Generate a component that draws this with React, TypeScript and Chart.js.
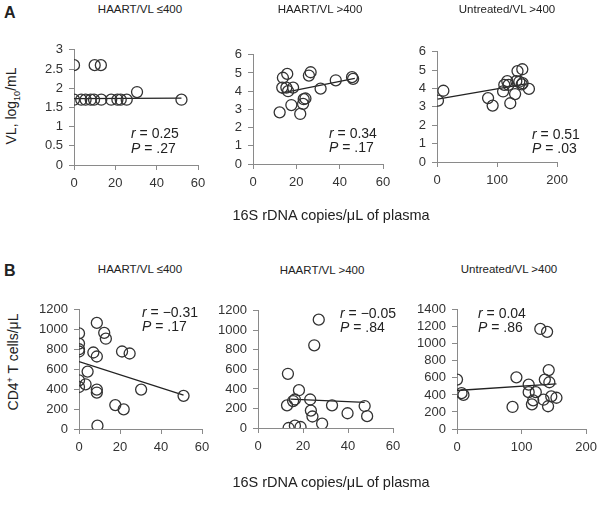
import React, { useEffect, useRef } from 'react';
import { Chart, registerables } from 'chart.js';
Chart.register(...registerables);

const FONT = '"Liberation Sans", Arial, Helvetica, sans-serif';

// ---- Panel A1: HAART/VL <=400, VL ----
const a1X = [0, 10, 13, 0, 3.5, 5.6, 8.1, 9.7, 13.2, 18, 21, 22.6, 25.5, 30.5, 52];
const a1Y = [2.6, 2.6, 2.6, 1.7, 1.7, 1.7, 1.7, 1.7, 1.7, 1.7, 1.7, 1.7, 1.7, 1.9, 1.7];
const a1TrendX = [0, 52];
const a1TrendY = [1.73, 1.74];

// ---- Panel A2: HAART/VL >400, VL ----
const a2X = [12.3, 13.5, 13.8, 15.8, 15.4, 16.2, 18.5, 17.7, 21.8, 23.1, 23.4, 24.2, 25.8, 26.6, 31.2, 38.2, 45.7, 46.2];
const a2Y = [2.84, 4.2, 4.74, 4.95, 4.2, 4.0, 4.2, 3.24, 2.75, 3.3, 3.56, 3.6, 4.86, 5.04, 4.14, 4.6, 4.77, 4.68];
const a2TrendX = [13, 47];
const a2TrendY = [3.9, 4.7];

// ---- Panel A3: Untreated/VL >400, VL ----
const a3X = [1.6, 10.6, 85, 92.6, 110, 112, 117, 119, 122, 130, 132, 134, 142, 137, 141, 142.5, 153];
const a3Y = [3.34, 3.88, 3.48, 3.07, 3.84, 4.2, 4.4, 4.2, 3.2, 3.7, 4.4, 4.95, 5.05, 4.37, 4.23, 4.29, 3.98];
const a3TrendX = [1, 148];
const a3TrendY = [3.42, 4.25];

// ---- Panel B1: HAART/VL <=400, CD4 ----
const b1X = [0, 0, 0, 0, 0, 0, 3.2, 4.2, 7, 8.7, 8.7, 8.7, 8.7, 9, 12.3, 13.1, 17.7, 21, 21.8, 24.7, 30.3, 51];
const b1Y = [962, 860, 803, 780, 489, 423, 450, 578, 770, 1068, 730, 397, 367, 33, 968, 909, 241, 780, 198, 760, 397, 334];
const b1TrendX = [0, 51];
const b1TrendY = [678, 340];

// ---- Panel B2: HAART/VL >400, CD4 ----
const b2X = [27, 25, 13.3, 18.2, 12.9, 15.6, 16.4, 23.2, 23.5, 24.2, 28.5, 32.9, 39.8, 47.4, 48.5, 13.6, 16.4, 18.9];
const b2Y = [1109, 847, 555, 387, 232, 276, 292, 292, 178, 118, 44, 232, 151, 225, 121, 0, 24, 10];
const b2TrendX = [14.4, 47.4];
const b2TrendY = [296, 262];

// ---- Panel B3: Untreated/VL >400, CD4 ----
const b3X = [0, 7, 10, 86, 92, 111, 111, 116, 118, 122, 129, 139.5, 134, 136, 142, 143, 141, 146, 154];
const b3Y = [580, 421, 400, 259, 607, 522, 433, 290, 336, 433, 1175, 1141, 344, 580, 692, 549, 267, 383, 367];
const b3TrendX = [0, 154];
const b3TrendY = [452, 530];

// axis ranges
const xMaxSmall = 60;
const xStepSmall = 20;
const xMaxLarge = 200;
const xStepLarge = 100;

const panelTitles = ['HAART/VL \u2264400', 'HAART/VL >400', 'Untreated/VL >400'];
const rLabels = ['0.25', '0.34', '0.51', '\u22120.31', '\u22120.05', '0.04'];
const pLabels = ['.27', '.17', '.03', '.17', '.84', '.86'];

const YW = 46;
const PT = 12;
const PR = 14;
const XH = 30;

type PanelCfg = {
  xs: number[]; ys: number[]; tx: number[]; ty: number[];
  xMax: number; xStep: number; yMax: number; yStep: number;
  L: number; T: number; R: number; B: number;
};

const panels: PanelCfg[] = [
  { xs: a1X, ys: a1Y, tx: a1TrendX, ty: a1TrendY, xMax: xMaxSmall, xStep: xStepSmall, yMax: 3, yStep: 0.5, L: 74, T: 48, R: 198, B: 165 },
  { xs: a2X, ys: a2Y, tx: a2TrendX, ty: a2TrendY, xMax: xMaxSmall, xStep: xStepSmall, yMax: 6, yStep: 1, L: 253, T: 53, R: 383, B: 164 },
  { xs: a3X, ys: a3Y, tx: a3TrendX, ty: a3TrendY, xMax: xMaxLarge, xStep: xStepLarge, yMax: 6, yStep: 1, L: 437, T: 50, R: 560, B: 162 },
  { xs: b1X, ys: b1Y, tx: b1TrendX, ty: b1TrendY, xMax: xMaxSmall, xStep: xStepSmall, yMax: 1200, yStep: 200, L: 79, T: 308, R: 202, B: 429 },
  { xs: b2X, ys: b2Y, tx: b2TrendX, ty: b2TrendY, xMax: xMaxSmall, xStep: xStepSmall, yMax: 1200, yStep: 200, L: 258, T: 309, R: 393, B: 428 },
  { xs: b3X, ys: b3Y, tx: b3TrendX, ty: b3TrendY, xMax: xMaxLarge, xStep: xStepLarge, yMax: 1400, yStep: 200, L: 457, T: 308, R: 589, B: 429 },
];

const fmt = (v: any) => String(Math.round(Number(v) * 100) / 100);

function Panel({ cfg }: { cfg: PanelCfg }) {
  const ref = useRef<HTMLCanvasElement | null>(null);
  const width = YW + (cfg.R - cfg.L) + PR;
  const height = PT + (cfg.B - cfg.T) + XH;
  useEffect(() => {
    if (!ref.current) return;
    const axisColor = '#8a8a8a';
    const tickFont = { family: FONT, size: 13 };
    const chart = new Chart(ref.current, {
      type: 'scatter',
      data: {
        datasets: [
          {
            data: cfg.xs.map((x, i) => ({ x, y: cfg.ys[i] })),
            pointRadius: 5.5,
            pointStyle: 'circle',
            backgroundColor: 'rgba(0,0,0,0)',
            borderColor: '#333',
            borderWidth: 1.3,
            showLine: false,
          },
          {
            data: cfg.tx.map((x, i) => ({ x, y: cfg.ty[i] })),
            showLine: true,
            pointRadius: 0,
            borderColor: '#222',
            borderWidth: 1.3,
            fill: false,
          },
        ],
      },
      options: {
        animation: false,
        responsive: false,
        maintainAspectRatio: false,
        events: [],
        layout: { padding: { top: PT, right: PR, left: 0, bottom: 0 } },
        plugins: { legend: { display: false }, tooltip: { enabled: false }, title: { display: false } },
        scales: {
          x: {
            type: 'linear',
            min: 0,
            max: cfg.xMax,
            ticks: { stepSize: cfg.xStep, color: '#333', font: tickFont, padding: 6, maxRotation: 0, autoSkip: false, callback: fmt },
            grid: { display: true, drawOnChartArea: false, drawTicks: true, tickLength: 5, color: axisColor },
            border: { display: true, color: axisColor, width: 1 },
            afterFit: (s: any) => { s.height = XH; },
          },
          y: {
            type: 'linear',
            min: 0,
            max: cfg.yMax,
            ticks: { stepSize: cfg.yStep, color: '#333', font: tickFont, padding: 6, autoSkip: false, callback: fmt },
            grid: { display: true, drawOnChartArea: false, drawTicks: true, tickLength: 5, color: axisColor },
            border: { display: true, color: axisColor, width: 1 },
            afterFit: (s: any) => { s.width = YW; },
          },
        },
      },
    } as any);
    return () => chart.destroy();
  }, [cfg]);
  return (
    <canvas
      ref={ref}
      width={width}
      height={height}
      style={{ position: 'absolute', left: cfg.L - YW, top: cfg.T - PT, width, height }}
    />
  );
}

function Txt({ x, y, children, size = 14, align = 'left', weight = 400, rotate = false }: any) {
  const tx = align === 'center' ? '-50%' : '0';
  const style: React.CSSProperties = {
    position: 'absolute',
    left: x,
    top: y,
    transform: rotate ? 'translate(-50%, -50%) rotate(-90deg)' : `translate(${tx}, -50%)`,
    fontFamily: FONT,
    fontSize: size,
    fontWeight: weight,
    color: '#222',
    whiteSpace: 'nowrap',
    lineHeight: 1,
  };
  return <div style={style}>{children}</div>;
}

const titlePos = [
  [140, 10], [320, 10], [507, 10],
  [140, 270], [322, 271], [509, 270],
];
const annPos = [
  [131, 133, 148], [329, 133, 146.5], [532, 134, 148],
  [142, 312, 325.5], [340, 313, 327], [478, 313, 327],
];

export default function App() {
  return (
    <div style={{ position: 'absolute', left: 0, top: 0, width: 601, height: 506, overflow: 'hidden', background: '#fff' }}>
      {panels.map((p, i) => <Panel key={i} cfg={p} />)}
      <Txt x={4} y={13} size={16} weight={700}>A</Txt>
      <Txt x={4} y={271} size={16} weight={700}>B</Txt>
      {titlePos.map((pos, i) => (
        <Txt key={'t' + i} x={pos[0]} y={pos[1]} size={11.5} align="center">{panelTitles[i % 3]}</Txt>
      ))}
      {annPos.map((pos, i) => (
        <React.Fragment key={'a' + i}>
          <Txt x={pos[0]} y={pos[1]} size={14}><i>r</i> = {rLabels[i]}</Txt>
          <Txt x={pos[0]} y={pos[2]} size={14}><i>P</i> = {pLabels[i]}</Txt>
        </React.Fragment>
      ))}
      <Txt x={13} y={106} size={14} rotate>VL, log<sub style={{ fontSize: 9 }}>10</sub>/mL</Txt>
      <Txt x={13} y={362} size={14} rotate>CD4<sup style={{ fontSize: 9 }}>+</sup> T cells/μL</Txt>
      <Txt x={331} y={215} size={14.5} align="center">16S rDNA copies/μL of plasma</Txt>
      <Txt x={331} y={482} size={14.5} align="center">16S rDNA copies/μL of plasma</Txt>
    </div>
  );
}
